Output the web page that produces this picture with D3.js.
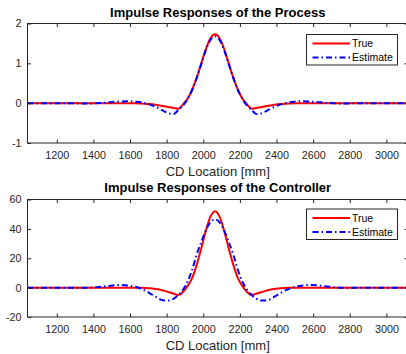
<!DOCTYPE html>
<html>
<head>
<meta charset="utf-8">
<script src="https://cdn.jsdelivr.net/npm/d3@7"></script>
<style>
  html, body { margin: 0; padding: 0; background: #fff; }
  svg { display: block; font-family: "Liberation Sans", Arial, sans-serif; }
</style>
</head>
<body>
<div id="chart"></div>
<script>
// values
const cdLocation = [1040, 1264, 1364, 1414, 1464, 1504, 1544, 1584, 1624, 1664, 1704, 1739, 1764, 1789, 1814, 1839, 1864, 1889, 1914, 1939, 1964, 1989, 2014, 2039,
  2064,
  2089, 2114, 2139, 2164, 2189, 2214, 2239, 2264, 2289, 2314, 2339, 2364, 2389, 2424, 2464, 2504, 2544, 2584, 2624, 2664, 2714, 2764, 2864, 3118];

const processTrue = [0, 0, 0, 0, 0, 0, 0, 0, 0, -0.01, -0.02, -0.04, -0.06, -0.08, -0.10, -0.12, -0.14, -0.03, 0.11, 0.34, 0.64, 1.00, 1.36, 1.63,
  1.73,
  1.63, 1.36, 1.00, 0.64, 0.34, 0.11, -0.03, -0.14, -0.12, -0.10, -0.08, -0.06, -0.04, -0.02, -0.01, 0, 0, 0, 0, 0, 0, 0, 0, 0];

const processEstimate = [0, 0, -0.01, 0, 0.01, 0.03, 0.04, 0.05, 0.04, 0.02, -0.03, -0.09, -0.15, -0.21, -0.26, -0.27, -0.17, -0.06, 0.10, 0.33, 0.63, 0.98, 1.33, 1.59,
  1.68,
  1.59, 1.33, 0.98, 0.63, 0.33, 0.10, -0.06, -0.17, -0.27, -0.26, -0.21, -0.15, -0.09, -0.03, 0.02, 0.04, 0.05, 0.04, 0.03, 0.01, 0, -0.01, 0, 0];

const controllerTrue = [0, 0, 0, 0, 0, 0, 0, 0, 0, -0.1, -0.4, -0.9, -1.4, -2.2, -3.2, -4.2, -5.0, -3.0, 1.0, 6.5, 15.5, 26.7, 38.7, 48.3,
  52,
  48.3, 38.7, 26.7, 15.5, 6.5, 1.0, -3.0, -5.0, -4.2, -3.2, -2.2, -1.4, -0.9, -0.4, -0.1, 0, 0, 0, 0, 0, 0, 0, 0, 0];

const controllerEstimate = [0, 0, 0, 0.3, 0.9, 1.5, 1.8, 1.5, 0.7, -1.0, -3.5, -6.2, -8.0, -8.8, -8.7, -7.5, -5.0, -1.5, 4, 12, 22.5, 31, 39, 44.5,
  46.5,
  44.5, 39, 31, 22.5, 12, 4, -1.5, -5.0, -7.5, -8.7, -8.8, -8.0, -6.2, -3.5, -1.0, 0.7, 1.5, 1.8, 1.5, 0.9, 0.3, 0, 0, 0];

const xTicks = [1200, 1400, 1600, 1800, 2000, 2200, 2400, 2600, 2800, 3000];
const processYTicks = [-1, 0, 1, 2];
const controllerYTicks = [-20, 0, 20, 40, 60];
const panelTitles = ['Impulse Responses of the Process', 'Impulse Responses of the Controller'];
const legendLabels = ['True', 'Estimate'];
const xLabel = 'CD Location [mm]';

const width = 406, height = 354;
const axisColor = '#262626';

const panels = [
  { title: panelTitles[0], trueVals: processTrue, estVals: processEstimate, yTicks: processYTicks,
    yDomain: [-1, 2], top: 23.5, bottom: 143, titleY: 16.8, legendTop: 34.5 },
  { title: panelTitles[1], trueVals: controllerTrue, estVals: controllerEstimate, yTicks: controllerYTicks,
    yDomain: [-20, 60], top: 199.5, bottom: 317, titleY: 192, legendTop: 209 }
];

const left = 27.5, right = 408;

const svg = d3.select('#chart').append('svg')
  .attr('width', width)
  .attr('height', height);

const x = d3.scaleLinear().domain([1040, 3118]).range([left, right]);
const plain = d => String(d);

panels.forEach((p, i) => {
  const y = d3.scaleLinear().domain(p.yDomain).range([p.bottom, p.top]);
  const g = svg.append('g');

  const clipId = 'clip' + i;
  svg.append('clipPath').attr('id', clipId)
    .append('rect')
      .attr('x', left).attr('y', p.top)
      .attr('width', right - left).attr('height', p.bottom - p.top);

  const line = d3.line()
    .x((d, j) => x(cdLocation[j]))
    .y(d => y(d))
    .curve(d3.curveMonotoneX);

  // true first, estimate drawn on top
  g.append('path')
    .attr('clip-path', `url(#${clipId})`)
    .attr('d', line(p.trueVals))
    .attr('fill', 'none')
    .attr('stroke', '#ff0000')
    .attr('stroke-width', 2);

  g.append('path')
    .attr('clip-path', `url(#${clipId})`)
    .attr('d', line(p.estVals))
    .attr('fill', 'none')
    .attr('stroke', '#0000ff')
    .attr('stroke-width', 2)
    .attr('stroke-dasharray', '6,3,1.5,3');

  // box
  g.append('rect')
    .attr('x', left).attr('y', p.top)
    .attr('width', right - left).attr('height', p.bottom - p.top)
    .attr('fill', 'none')
    .attr('stroke', axisColor)
    .attr('stroke-width', 1);

  // axes with inward ticks
  const tickLen = 3.5;
  const xAxis = d3.axisBottom(x).tickValues(xTicks).tickFormat(plain).tickSizeInner(-tickLen).tickSizeOuter(0).tickPadding(8);
  const xg = g.append('g').attr('transform', `translate(0,${p.bottom})`).call(xAxis);
  const xTop = d3.axisTop(x).tickValues(xTicks).tickSizeInner(-tickLen).tickSizeOuter(0).tickFormat('');
  const xtg = g.append('g').attr('transform', `translate(0,${p.top})`).call(xTop);
  const yAxis = d3.axisLeft(y).tickValues(p.yTicks).tickFormat(plain).tickSizeInner(-tickLen).tickSizeOuter(0).tickPadding(6);
  const yg = g.append('g').attr('transform', `translate(${left},0)`).call(yAxis);
  const yRight = d3.axisRight(y).tickValues(p.yTicks).tickSizeInner(-tickLen).tickSizeOuter(0).tickFormat('');
  const yrg = g.append('g').attr('transform', `translate(${right},0)`).call(yRight);

  [xg, xtg, yg, yrg].forEach(a => {
    a.select('.domain').remove();
    a.selectAll('line').attr('stroke', axisColor);
    a.selectAll('text')
      .attr('fill', axisColor)
      .style('font-size', '10.8px')
      .style('font-family', '"Liberation Sans", Arial, sans-serif');
  });
  xg.selectAll('text').attr('dy', null).attr('y', 15.8);

  // title and x label
  g.append('text')
    .attr('x', (left + right) / 2)
    .attr('y', p.titleY)
    .attr('text-anchor', 'middle')
    .style('font-size', '13px')
    .style('font-weight', 'bold')
    .attr('fill', '#000')
    .text(p.title);

  g.append('text')
    .attr('x', (left + right) / 2)
    .attr('y', p.bottom + 32.5)
    .attr('text-anchor', 'middle')
    .style('font-size', '13px')
    .attr('fill', axisColor)
    .text(xLabel);

  // legend
  const lg = g.append('g').attr('transform', `translate(306.5,${p.legendTop})`);
  lg.append('rect')
    .attr('width', 91).attr('height', 30.5)
    .attr('fill', '#fff')
    .attr('stroke', axisColor)
    .attr('stroke-width', 1);

  const legendStyles = [
    { color: '#ff0000', dash: null },
    { color: '#0000ff', dash: '6,3,1.5,3' }
  ];
  legendLabels.forEach((label, k) => {
    const ry = 9 + k * 14;
    lg.append('line')
      .attr('x1', 6).attr('x2', 43.5)
      .attr('y1', ry).attr('y2', ry)
      .attr('stroke', legendStyles[k].color)
      .attr('stroke-width', 2)
      .attr('stroke-dasharray', legendStyles[k].dash);
    lg.append('text')
      .attr('x', 45.5)
      .attr('y', ry + 3.8)
      .style('font-size', '10.5px')
      .attr('fill', '#000')
      .text(label);
  });
});
</script>
</body>
</html>
